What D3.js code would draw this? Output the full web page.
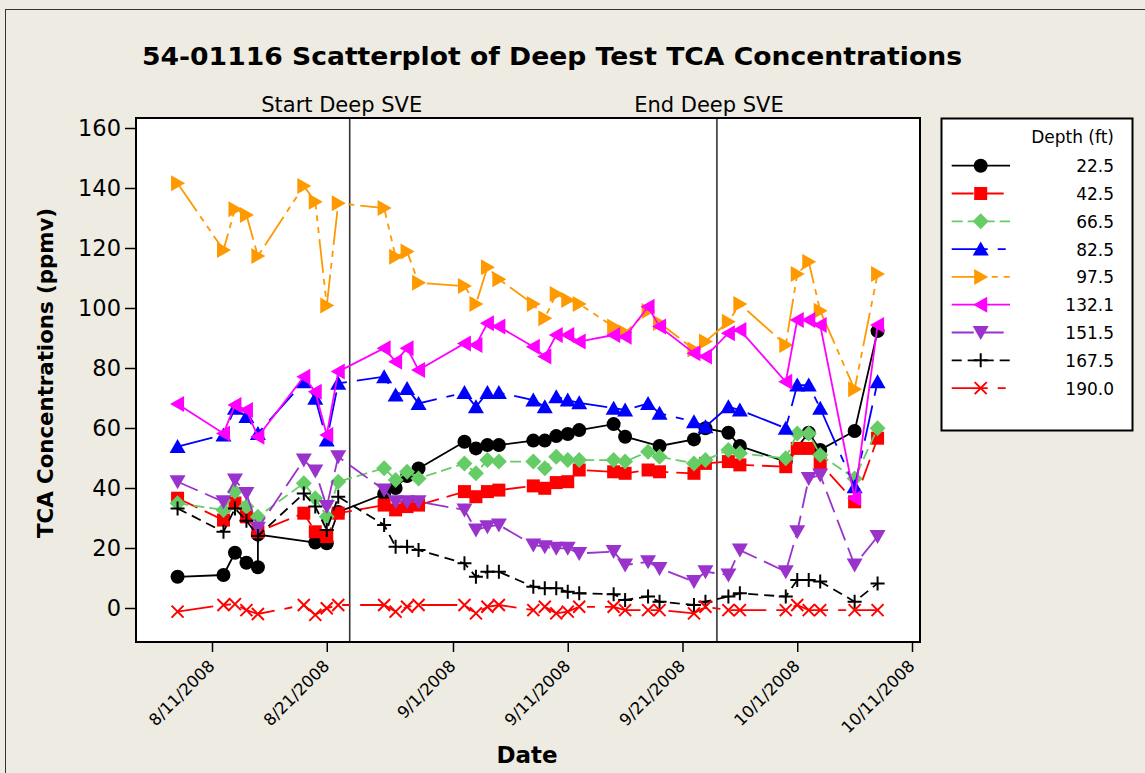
<!DOCTYPE html>
<html><head><meta charset="utf-8">
<script src="https://cdn.jsdelivr.net/npm/d3@7"></script>
<style>
html,body{margin:0;padding:0;background:#EEEBE2;}
svg{display:block;font-family:"DejaVu Sans",sans-serif;}
</style></head><body>
<svg id="chart"></svg>
<script>
// ---- data ----------------------------------------------------------
const sampleDates = ["2008-08-08","2008-08-12","2008-08-13","2008-08-14","2008-08-15","2008-08-19","2008-08-20","2008-08-21","2008-08-22","2008-08-26","2008-08-27","2008-08-28","2008-08-29",
  "2008-09-02","2008-09-03","2008-09-04","2008-09-05","2008-09-08","2008-09-09","2008-09-10","2008-09-11","2008-09-12","2008-09-15","2008-09-16","2008-09-18","2008-09-19","2008-09-22","2008-09-23","2008-09-25","2008-09-26","2008-09-30",
  "2008-10-01","2008-10-02","2008-10-03","2008-10-06","2008-10-08"];

const depth22Dates = ["2008-08-08","2008-08-12","2008-08-13","2008-08-14","2008-08-15","2008-08-15","2008-08-20","2008-08-21","2008-08-22","2008-08-26","2008-08-27","2008-08-28","2008-08-29",
  "2008-09-02","2008-09-03","2008-09-04","2008-09-05","2008-09-08","2008-09-09","2008-09-10","2008-09-11","2008-09-12","2008-09-15","2008-09-16","2008-09-19","2008-09-22","2008-09-23","2008-09-25","2008-09-26","2008-09-30",
  "2008-10-02","2008-10-03","2008-10-06","2008-10-08"];
const depth22 = [10.4,11,18.4,15.1,13.6,24.5,21.8,21.6,32,38,40,44,46.5,
  55.4,53.2,54.3,54.3,55.8,55.8,57.3,58,59.3,61.3,57.1,54,56.2,59.9,58.4,54,48.8,
  58.4,52.7,59,92.3];

const depth42 = [36.6,29.3,35,30.4,25.4,31.6,25.4,23.8,31.6,34.3,32.7,33.8,34.3,
  38.8,37.1,38.8,39.3,40.7,39.9,41.8,42.1,46,45.4,44.9,46,45.4,44.9,48.2,48.8,47.7,47.1,
  53.2,53.2,48.2,35.4,56.6];
const depth66 = [34.9,32.7,38.8,33.8,30.4,41.6,36.6,30.4,42.1,46.6,42.7,45.4,43.2,
  48.2,44.9,49.3,48.8,48.8,46.6,50.4,49.3,49.3,49.3,48.8,52.1,50.4,48.2,49.3,52.7,51.6,49.9,
  58.2,58.2,51,43.2,59.9];
const depth82 = [53.8,57.7,66.6,63.8,58.2,75.4,69.9,56,74.9,77.1,71,73.2,68.2,
  71.8,67.1,71.8,71.8,69.3,67.1,70.4,69.3,68.4,66.6,66,68.2,64.9,62.1,60.4,67.1,66,59.9,
  74.3,74.3,66.6,40.4,75.4];
const depth97 = [141.6,119.3,132.9,131,117.3,140.7,135.4,100.8,134.9,133.3,117.1,118.8,108.4,
  107.3,101.3,113.6,109.6,101.3,96.6,104.7,102.7,101.3,93.8,91.8,99,95,86.2,88.8,95.4,101.3,87.7,
  111.3,115.4,99.1,72.9,111.3];
const depth132 = [68,58.2,67.7,66,57.1,77.1,72.1,57.7,78.8,86.6,82.1,86.6,79.3,
  88.2,87.7,94.9,93.8,87.1,83.8,91,91,88.8,91,90.4,100.4,93.8,84.9,83.8,91.6,92.7,75.4,
  96,96,94.3,36.6,94.3];
const depth151 = [42.1,35.4,42.7,38.2,26.6,49.3,45.7,33.8,50.4,39.3,35.4,35.4,35.4,
  32.7,26,27.1,27.7,21,20.4,19.9,19.9,18.2,18.8,14.3,15.4,13.2,8.8,12.1,11,19.3,12.1,
  25.4,43.2,44.3,14.3,23.8];
const depth167 = [33.2,25.4,33.2,29.1,24,38.2,33.8,26,37.1,27.7,20.4,20.4,19.3,
  14.9,10.4,12.1,12.1,7.1,6.6,6.6,5.4,4.9,4.6,2.7,3.8,2.1,1,2.1,3.8,4.9,3.8,
  9.3,9.3,8.8,2.1,8.2];
const depth190 = [-1.2,1,1.3,-0.7,-2,1,-2.3,-0.1,1,1,-1.2,0.4,1,
  1,-1.8,0.4,1,-0.7,0.4,-1.8,-1.2,0.4,0.4,-0.7,-0.7,-0.7,-1.8,0.4,-0.7,-0.7,-0.7,
  1,-0.7,-0.7,-0.7,-0.7];

const depthLabels = ["22.5","42.5","66.5","82.5","97.5","132.1","151.5","167.5","190.0"];
const yTicks = [0,20,40,60,80,100,120,140,160];
const xTickDates = ["2008-08-11","2008-08-21","2008-09-01","2008-09-11","2008-09-21","2008-10-01","2008-10-11"];
const refLines = [{date:"2008-08-23", label:"Start Deep SVE"},{date:"2008-09-24", label:"End Deep SVE"}];

// ---- styling per series ---------------------------------------------
const seriesStyle = [
  {color:"#000000", dash:null,              sym:"circle"},
  {color:"#FF0000", dash:"22,8",            sym:"square"},
  {color:"#66CC66", dash:"11,5",            sym:"diamond"},
  {color:"#0000FF", dash:"36,10,8,10",      sym:"triUp"},
  {color:"#FF9900", dash:"34,6,6,6,6,6",    sym:"triRight"},
  {color:"#FF00FF", dash:null,              sym:"triLeft"},
  {color:"#9933CC", dash:"22,8",            sym:"triDown"},
  {color:"#000000", dash:"10,6",            sym:"plus"},
  {color:"#FF0000", dash:"36,10,8,10",      sym:"cross"}
];
const symbolPaths = {
  circle:  "M7,0A7,7 0 1,1 -7,0A7,7 0 1,1 7,0Z",
  square:  "M-6.5,-6.5H6.5V6.5H-6.5Z",
  diamond: "M0,-8L8,0L0,8L-8,0Z",
  triUp:   "M0,-7.5L8,6.5L-8,6.5Z",
  triRight:"M-6.5,-8L7.5,0L-6.5,8Z",
  triLeft: "M6.5,-8L-7.5,0L6.5,8Z",
  triDown: "M-8,-6.5L8,-6.5L0,7.5Z",
  plus:    "M-7,0H7M0,-7V7",
  cross:   "M-6,-6L6,6M-6,6L6,-6"
};
const strokeSymbols = new Set(["plus","cross"]);

const parse = d3.utcParse("%Y-%m-%d");
const seriesValues = [depth22, depth42, depth66, depth82, depth97, depth132, depth151, depth167, depth190];
const series = depthLabels.map((lab, i) => {
  const dates = i === 0 ? depth22Dates : sampleDates;
  return {
    label: lab,
    ...seriesStyle[i],
    points: dates.map((d, j) => ({date: parse(d), value: seriesValues[i][j]}))
  };
});

// ---- layout ----------------------------------------------------------
const W = 1145, H = 773;
const frame = {left:136, top:118, right:920, bottom:642};

const svg = d3.select("#chart").attr("width", W).attr("height", H);
svg.append("rect").attr("width", W).attr("height", H).attr("fill", "#EEEBE2");
svg.append("rect").attr("x", 5.5).attr("y", 9.5).attr("width", W).attr("height", H)
  .attr("fill", "none").attr("stroke", "#333").attr("stroke-width", 1);

const x = d3.scaleUtc().domain([parse("2008-08-11"), parse("2008-10-11")]).range([212, 912]);
const y = d3.scaleLinear().domain([0, 160]).range([608, 128]);

// plot area
svg.append("rect").attr("x", frame.left).attr("y", frame.top)
  .attr("width", frame.right - frame.left).attr("height", frame.bottom - frame.top)
  .attr("fill", "#fff");

// title
svg.append("text").attr("x", 552).attr("y", 65).attr("text-anchor", "middle")
  .attr("font-size", 25).attr("font-weight", "bold").attr("fill", "#000")
  .attr("textLength", 820).attr("lengthAdjust", "spacingAndGlyphs")
  .text("54-01116 Scatterplot of Deep Test TCA Concentrations");

// y axis
const yAxis = svg.append("g").attr("transform", `translate(${frame.left},0)`)
  .call(d3.axisLeft(y).tickValues(yTicks).tickSize(11).tickPadding(4).tickSizeOuter(0));
yAxis.select(".domain").remove();
yAxis.selectAll(".tick line").attr("stroke", "#000").attr("stroke-width", 1.5);
yAxis.selectAll(".tick text").attr("font-size", 22.5).attr("fill", "#000")
  .attr("font-family", "DejaVu Sans, sans-serif");

// x axis
const xAxis = svg.append("g").attr("transform", `translate(0,${frame.bottom})`)
  .call(d3.axisBottom(x).tickValues(xTickDates.map(parse)).tickSize(10).tickSizeOuter(0)
    .tickFormat(d3.utcFormat("%-m/%-d/%Y")));
xAxis.select(".domain").remove();
xAxis.selectAll(".tick line").attr("stroke", "#000").attr("stroke-width", 1.5);
xAxis.selectAll(".tick text")
  .attr("font-size", 16.5).attr("fill", "#000").attr("font-family", "DejaVu Sans, sans-serif")
  .attr("text-anchor", "end").attr("y", 0).attr("dy", "0.35em")
  .attr("transform", "translate(-1,21) rotate(-45)");

// axis titles
svg.append("text").attr("transform", "translate(53,373) rotate(-90)")
  .attr("text-anchor", "middle").attr("font-size", 21).attr("font-weight", "bold")
  .attr("textLength", 330).attr("lengthAdjust", "spacingAndGlyphs")
  .text("TCA Concentrations (ppmv)");
svg.append("text").attr("x", 527).attr("y", 763).attr("text-anchor", "middle")
  .attr("font-size", 23).attr("font-weight", "bold").text("Date");

// reference lines
refLines.forEach(r => {
  const rx = x(parse(r.date));
  svg.append("line").attr("x1", rx).attr("x2", rx).attr("y1", frame.top).attr("y2", frame.bottom)
    .attr("stroke", "#333").attr("stroke-width", 1.6);
  const t = svg.append("text").attr("x", rx - 8).attr("y", 112).attr("text-anchor", "middle")
    .attr("font-size", 21).attr("fill", "#000").text(r.label);
});

// series: connecting lines and symbols
const line = d3.line().x(d => x(d.date)).y(d => y(d.value));
function drawSymbol(g, s) {
  const p = g.append("path").attr("d", symbolPaths[s.sym]);
  if (strokeSymbols.has(s.sym)) p.attr("fill", "none").attr("stroke", s.color).attr("stroke-width", 2);
  else p.attr("fill", s.color);
}
const plot = svg.append("g");
series.forEach(s => {
  const g = plot.append("g");
  g.append("path").datum(s.points).attr("d", line).attr("fill", "none")
    .attr("stroke", s.color).attr("stroke-width", 1.8)
    .attr("stroke-dasharray", s.dash);
  s.points.forEach(pt => {
    const m = g.append("g").attr("transform", `translate(${x(pt.date)},${y(pt.value)})`);
    drawSymbol(m, s);
  });
});

// plot frame on top
svg.append("rect").attr("x", frame.left).attr("y", frame.top)
  .attr("width", frame.right - frame.left).attr("height", frame.bottom - frame.top)
  .attr("fill", "none").attr("stroke", "#000").attr("stroke-width", 2);

// legend
const lg = svg.append("g");
lg.append("rect").attr("x", 941.5).attr("y", 118.5).attr("width", 191).attr("height", 312)
  .attr("fill", "#fff").attr("stroke", "#000").attr("stroke-width", 2);
lg.append("text").attr("x", 1114).attr("y", 143).attr("text-anchor", "end")
  .attr("font-size", 17).text("Depth (ft)");
series.forEach((s, i) => {
  const cy = 165.7 + i * 27.8;
  lg.append("line").attr("x1", 951.7).attr("x2", 1010).attr("y1", cy).attr("y2", cy)
    .attr("stroke", s.color).attr("stroke-width", 1.8).attr("stroke-dasharray", s.dash);
  const m = lg.append("g").attr("transform", `translate(980.7,${cy})`);
  drawSymbol(m, s);
  lg.append("text").attr("x", 1114).attr("y", cy + 6.5).attr("text-anchor", "end")
    .attr("font-size", 17).text(s.label);
});
</script>
</body></html>
